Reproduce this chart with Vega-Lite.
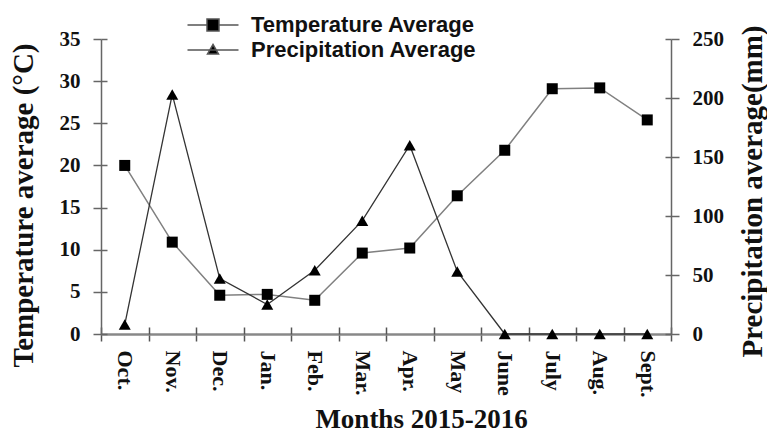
{
  "$schema": "https://vega.github.io/schema/vega-lite/v6.json",
  "autosize": "none",
  "width": 570,
  "height": 295,
  "padding": {"left": 101, "top": 39, "right": 96, "bottom": 98},
  "background": "white",
  "config": {
    "view": {"stroke": null},
    "axis": {"labelFont": "Liberation Serif", "labelFontWeight": "bold", "labelColor": "#111", "titleFont": "Liberation Serif", "titleFontWeight": "bold", "titleColor": "#111", "grid": false}
  },
  "data": {
    "values": [
      {"month": "Oct.", "temp": 20.0, "precip": 8},
      {"month": "Nov.", "temp": 10.9, "precip": 203},
      {"month": "Dec.", "temp": 4.6, "precip": 47},
      {"month": "Jan.", "temp": 4.7, "precip": 25},
      {"month": "Feb.", "temp": 4.0, "precip": 54},
      {"month": "Mar.", "temp": 9.6, "precip": 96},
      {"month": "Apr.", "temp": 10.2, "precip": 160},
      {"month": "May", "temp": 16.4, "precip": 53},
      {"month": "June", "temp": 21.8, "precip": 0},
      {"month": "July", "temp": 29.1, "precip": 0},
      {"month": "Aug.", "temp": 29.2, "precip": 0},
      {"month": "Sept.", "temp": 25.4, "precip": 0}
    ]
  },
  "encoding": {
    "x": {
      "field": "month", "type": "ordinal",
      "sort": ["Oct.", "Nov.", "Dec.", "Jan.", "Feb.", "Mar.", "Apr.", "May", "June", "July", "Aug.", "Sept."],
      "scale": {"type": "band", "paddingInner": 0, "paddingOuter": 0},
      "axis": {
        "title": "Months 2015-2016", "titleFontSize": 27, "titleX": 320, "titleY": 93, "titleBaseline": "alphabetic", "titleAlign": "center",
        "labelAngle": 90, "labelFontSize": 22, "labelPadding": 9, "labelAlign": "left", "labelBaseline": "middle",
        "tickBand": "extent", "tickSize": 7, "tickColor": "#555", "tickWidth": 1.5,
        "domainColor": "#888", "domainWidth": 2.5
      }
    }
  },
  "layer": [
    {
      "encoding": {
        "y": {
          "field": "temp", "type": "quantitative",
          "scale": {"domain": [0, 35]},
          "axis": {
            "orient": "left", "values": [0, 5, 10, 15, 20, 25, 30, 35],
            "title": "Temperature average (°C)", "titleFontSize": 29, "titleAngle": -90, "titleX": -69, "titleY": 166, "titleBaseline": "alphabetic", "titleAlign": "center",
            "labelFontSize": 21, "labelPadding": 13, "tickSize": 8, "tickColor": "#666", "tickWidth": 1.5,
            "domainColor": "#666", "domainWidth": 1.5
          }
        }
      },
      "layer": [
        {
          "layer": [
            {"mark": {"type": "line", "color": "#808080", "strokeWidth": 1.5}},
            {"mark": {"type": "point", "filled": true, "color": "#000", "opacity": 1, "size": 121, "shape": "square"}},
            {
              "mark": {"type": "point", "fill": "#000", "stroke": "#555", "strokeWidth": 1.5, "opacity": 0, "size": 100},
              "encoding": {
                "shape": {
                  "datum": "Temperature Average",
                  "scale": {"domain": ["Temperature Average", "Precipitation Average"], "range": ["M-5.1,0H-1.2M1.2,0H5.1M-1.2,-1.2H1.2V1.2H-1.2Z", "M-5.1,0H5.1M0,-1.1L1.1,0.8H-1.1Z"]},
                  "legend": {
                    "title": null, "orient": "none", "legendX": 101, "legendY": -25,
                    "labelFont": "Liberation Sans", "labelFontWeight": "bold", "labelFontSize": 22, "labelColor": "#111", "labelLimit": 400,
                    "symbolSize": 100, "labelOffset": 27, "rowPadding": 3,
                    "symbolOpacity": 1, "symbolStrokeWidth": 1.5
                  }
                }
              }
            }
          ]
        },
        {
          "mark": {"type": "point", "opacity": 0},
          "encoding": {
            "y": {
              "field": "temp", "type": "quantitative",
              "axis": {"orient": "right", "offset": -570, "values": [0, 5, 10, 15, 20, 25, 30, 35], "labels": false, "domain": false, "title": null, "tickSize": 6, "tickColor": "#666", "tickWidth": 1.5}
            }
          }
        }
      ],
      "resolve": {"axis": {"y": "independent"}}
    },
    {
      "encoding": {
        "x": {
          "field": "month", "type": "ordinal",
          "sort": ["Oct.", "Nov.", "Dec.", "Jan.", "Feb.", "Mar.", "Apr.", "May", "June", "July", "Aug.", "Sept."],
          "axis": {"orient": "top", "offset": -295, "tickBand": "extent", "labels": false, "domain": false, "title": null, "tickSize": 7, "tickColor": "#555", "tickWidth": 1.5}
        },
        "y": {
          "field": "precip", "type": "quantitative",
          "scale": {"domain": [0, 250]},
          "axis": {
            "orient": "right", "values": [0, 50, 100, 150, 200, 250],
            "title": "Precipitation average(mm)", "titleFontSize": 29, "titleAngle": -90, "titleX": 90, "titleY": 152, "titleBaseline": "alphabetic", "titleAlign": "center",
            "labelFontSize": 21, "labelPadding": 13, "tickSize": 8, "tickColor": "#666", "tickWidth": 1.5,
            "domainColor": "#666", "domainWidth": 1.5
          }
        }
      },
      "layer": [
        {
          "layer": [
            {"mark": {"type": "line", "color": "#333", "strokeWidth": 1.3}},
            {"mark": {"type": "point", "filled": true, "color": "#000", "opacity": 1, "size": 144, "shape": "triangle-up"}}
          ]
        },
        {
          "mark": {"type": "point", "opacity": 0},
          "encoding": {
            "y": {
              "field": "precip", "type": "quantitative",
              "axis": {"orient": "left", "offset": -570, "values": [0, 50, 100, 150, 200, 250], "labels": false, "domain": false, "title": null, "tickSize": 6, "tickColor": "#666", "tickWidth": 1.5}
            }
          }
        }
      ],
      "resolve": {"axis": {"y": "independent"}}
    }
  ],
  "resolve": {"scale": {"y": "independent"}, "axis": {"x": "independent"}}
}
